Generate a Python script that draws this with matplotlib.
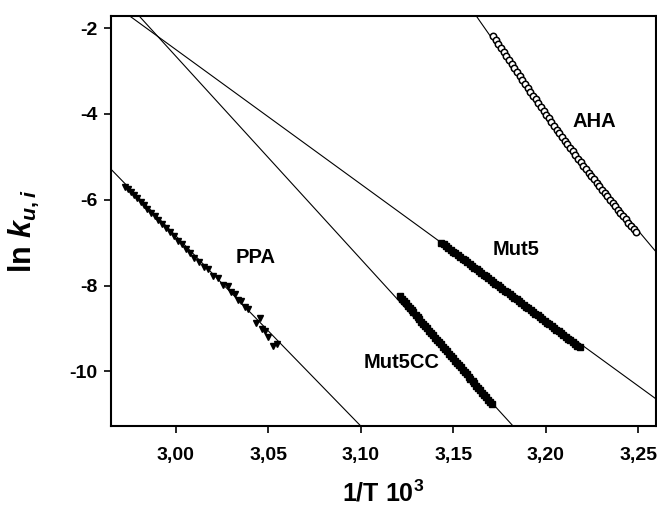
import numpy as np
import matplotlib
matplotlib.use("Agg")
import matplotlib.pyplot as plt
from matplotlib.ticker import FuncFormatter, FixedLocator

plt.rcParams["font.family"] = ["Liberation Sans", "DejaVu Sans"]
plt.rcParams["font.weight"] = "bold"
plt.rcParams["axes.unicode_minus"] = False
plt.rcParams["mathtext.fontset"] = "custom"
plt.rcParams["mathtext.rm"] = "Liberation Sans:bold"
plt.rcParams["mathtext.it"] = "Liberation Sans:bold:italic"
plt.rcParams["mathtext.bf"] = "Liberation Sans:bold"

# ---- measured unfolding rate constants: ln k_u,i against 1/T (x 10^3) ----
aha_x = [3.1715, 3.1729, 3.1744, 3.1758, 3.1772, 3.1787, 3.1801, 3.1815, 3.1830, 3.1844,
         3.1859, 3.1873, 3.1887, 3.1902, 3.1916, 3.1930, 3.1945, 3.1959, 3.1973, 3.1988,
         3.2002, 3.2016, 3.2031, 3.2045, 3.2059, 3.2074, 3.2088, 3.2103, 3.2117, 3.2131,
         3.2146, 3.2160, 3.2174, 3.2189, 3.2203, 3.2217, 3.2232, 3.2246, 3.2260, 3.2275,
         3.2289, 3.2303, 3.2318, 3.2332, 3.2346, 3.2361, 3.2375, 3.2390, 3.2404, 3.2418,
         3.2433, 3.2447, 3.2461, 3.2476, 3.2490]
aha_y = [-2.180, -2.276, -2.372, -2.467, -2.561, -2.656, -2.749, -2.843, -2.936, -3.028,
         -3.120, -3.212, -3.303, -3.394, -3.485, -3.575, -3.664, -3.753, -3.842, -3.930,
         -4.018, -4.106, -4.193, -4.279, -4.366, -4.451, -4.537, -4.622, -4.706, -4.790,
         -4.874, -4.957, -5.040, -5.122, -5.204, -5.286, -5.367, -5.447, -5.528, -5.607,
         -5.687, -5.766, -5.844, -5.923, -6.000, -6.078, -6.154, -6.231, -6.307, -6.382,
         -6.458, -6.532, -6.607, -6.680, -6.754]

mut5_x = [3.1436, 3.1449, 3.1461, 3.1474, 3.1487, 3.1499, 3.1512, 3.1525, 3.1537, 3.1550,
          3.1563, 3.1575, 3.1588, 3.1601, 3.1613, 3.1626, 3.1639, 3.1652, 3.1664, 3.1677,
          3.1690, 3.1702, 3.1715, 3.1728, 3.1740, 3.1753, 3.1766, 3.1778, 3.1791, 3.1804,
          3.1816, 3.1829, 3.1842, 3.1854, 3.1867, 3.1880, 3.1892, 3.1905, 3.1918, 3.1931,
          3.1943, 3.1956, 3.1969, 3.1981, 3.1994, 3.2007, 3.2019, 3.2032, 3.2045, 3.2057,
          3.2070, 3.2083, 3.2095, 3.2108, 3.2121, 3.2133, 3.2146, 3.2159, 3.2171, 3.2184]
mut5_y = [-7.000, -7.041, -7.083, -7.124, -7.165, -7.207, -7.248, -7.289, -7.331, -7.372,
          -7.413, -7.455, -7.496, -7.537, -7.579, -7.620, -7.661, -7.703, -7.744, -7.785,
          -7.827, -7.868, -7.909, -7.951, -7.992, -8.033, -8.075, -8.116, -8.157, -8.199,
          -8.240, -8.282, -8.323, -8.364, -8.406, -8.447, -8.488, -8.530, -8.571, -8.612,
          -8.654, -8.695, -8.736, -8.778, -8.819, -8.860, -8.902, -8.943, -8.984, -9.026,
          -9.067, -9.108, -9.150, -9.191, -9.232, -9.274, -9.315, -9.356, -9.398, -9.439]

mut5cc_x = [3.1211, 3.1222, 3.1232, 3.1243, 3.1253, 3.1264, 3.1275, 3.1285, 3.1296, 3.1307,
            3.1317, 3.1328, 3.1338, 3.1349, 3.1360, 3.1370, 3.1381, 3.1391, 3.1402, 3.1413,
            3.1423, 3.1434, 3.1445, 3.1455, 3.1466, 3.1476, 3.1487, 3.1498, 3.1508, 3.1519,
            3.1530, 3.1540, 3.1551, 3.1561, 3.1572, 3.1583, 3.1593, 3.1604, 3.1614, 3.1625,
            3.1636, 3.1646, 3.1657, 3.1668, 3.1678, 3.1689, 3.1699, 3.1710]
mut5cc_y = [-8.250, -8.303, -8.357, -8.410, -8.464, -8.517, -8.570, -8.624, -8.677, -8.731,
            -8.784, -8.837, -8.891, -8.944, -8.998, -9.051, -9.104, -9.158, -9.211, -9.264,
            -9.318, -9.371, -9.425, -9.478, -9.531, -9.585, -9.638, -9.692, -9.745, -9.798,
            -9.852, -9.905, -9.959, -10.012, -10.065, -10.119, -10.172, -10.226, -10.279, -10.332,
            -10.386, -10.439, -10.493, -10.546, -10.599, -10.653, -10.706, -10.760]

ppa_x = [2.9724, 2.9741, 2.9757, 2.9774, 2.9792, 2.9810, 2.9828, 2.9847, 2.9866, 2.9885,
         2.9905, 2.9925, 2.9946, 2.9967, 2.9988, 3.0010, 3.0032, 3.0055, 3.0078, 3.0101,
         3.0125, 3.0150, 3.0175, 3.0201, 3.0229, 3.0256, 3.0283, 3.0301, 3.0319, 3.0337,
         3.0355, 3.0373, 3.0391, 3.0436, 3.0454, 3.0467, 3.0481, 3.0499, 3.0523, 3.0548]
ppa_y = [-5.70, -5.76, -5.82, -5.90, -5.97, -6.06, -6.13, -6.22, -6.30, -6.39,
         -6.47, -6.57, -6.65, -6.76, -6.84, -6.95, -7.03, -7.15, -7.24, -7.35,
         -7.44, -7.57, -7.62, -7.78, -7.82, -7.98, -8.02, -8.16, -8.20, -8.33,
         -8.37, -8.49, -8.55, -8.88, -8.76, -9.02, -9.05, -9.20, -9.40, -9.37]

# ---- fitted curves: ln k = c0 + c1*(x - x0) + c2*(x - x0)^2 ----
fit_x0 = {"AHA": 3.2030, "Mut5": 2.9751, "Mut5CC": 2.9802, "PPA": 2.965}
fit_c0 = {"AHA": -4.15, "Mut5": -1.72, "Mut5CC": -1.72, "PPA": -5.29}
fit_c1 = {"AHA": -57.5, "Mut5": -31.35, "Mut5CC": -47.25, "PPA": -44.3}
fit_c2 = {"AHA": 60.0, "Mut5": 0.0, "Mut5CC": 0.0, "PPA": 0.0}

x_ticks = [3.00, 3.05, 3.10, 3.15, 3.20, 3.25]
y_ticks = [-2, -4, -6, -8, -10]

fig = plt.figure(figsize=(6.57, 5.13), dpi=100)
ax = fig.add_axes([0.169, 0.1696, 0.8295, 0.7992])
ax.set_xlim(2.965, 3.2596)
ax.set_ylim(-11.27, -1.72)

xx = np.linspace(2.90, 3.30, 600)
for name in ["PPA", "Mut5CC", "Mut5", "AHA"]:
    d = xx - fit_x0[name]
    yy = fit_c0[name] + fit_c1[name] * d + fit_c2[name] * d ** 2
    ax.plot(xx, yy, color="black", lw=0.8, zorder=2)

ax.plot(ppa_x, ppa_y, linestyle="none", marker="v", ms=5.0, color="black", zorder=3)
ax.plot(mut5cc_x, mut5cc_y, linestyle="none", marker="s", ms=4.2, color="black", zorder=3)
ax.plot(mut5_x, mut5_y, linestyle="none", marker="s", ms=4.4, color="black", zorder=3)
ax.plot(aha_x, aha_y, linestyle="none", marker="o", ms=4.6, mfc="white", mec="black",
        mew=1.1, zorder=3)

lab_kw = dict(fontsize=14.5, fontweight="bold", ha="center", va="center")
ax.text(3.2265, -4.18, "AHA", **lab_kw)
ax.text(3.1840, -7.17, "Mut5", **lab_kw)
ax.text(3.1220, -9.80, "Mut5CC", **lab_kw)
ax.text(3.0431, -7.35, "PPA", **lab_kw)

ax.xaxis.set_major_locator(FixedLocator(x_ticks))
ax.yaxis.set_major_locator(FixedLocator(y_ticks))
ax.xaxis.set_major_formatter(FuncFormatter(lambda v, p: f"{v:.2f}".replace(".", ",")))
ax.yaxis.set_major_formatter(FuncFormatter(lambda v, p: f"{v:.0f}"))
ax.tick_params(direction="out", length=5, width=1.2, labelsize=14)
ax.tick_params(axis="x", pad=10)
ax.tick_params(axis="y", pad=5)
for lbl in ax.get_xticklabels() + ax.get_yticklabels():
    lbl.set_fontweight("bold")
for sp in ax.spines.values():
    sp.set_linewidth(1.5)

ax.set_xlabel(r"1/T 10$^{3}$", fontsize=18, fontweight="bold", labelpad=12)
ax.set_ylabel(r"ln $k_{u,i}$", fontsize=22, fontweight="bold")
ax.yaxis.set_label_coords(-0.128, 0.474)

fig.savefig("out.png", dpi=100)
